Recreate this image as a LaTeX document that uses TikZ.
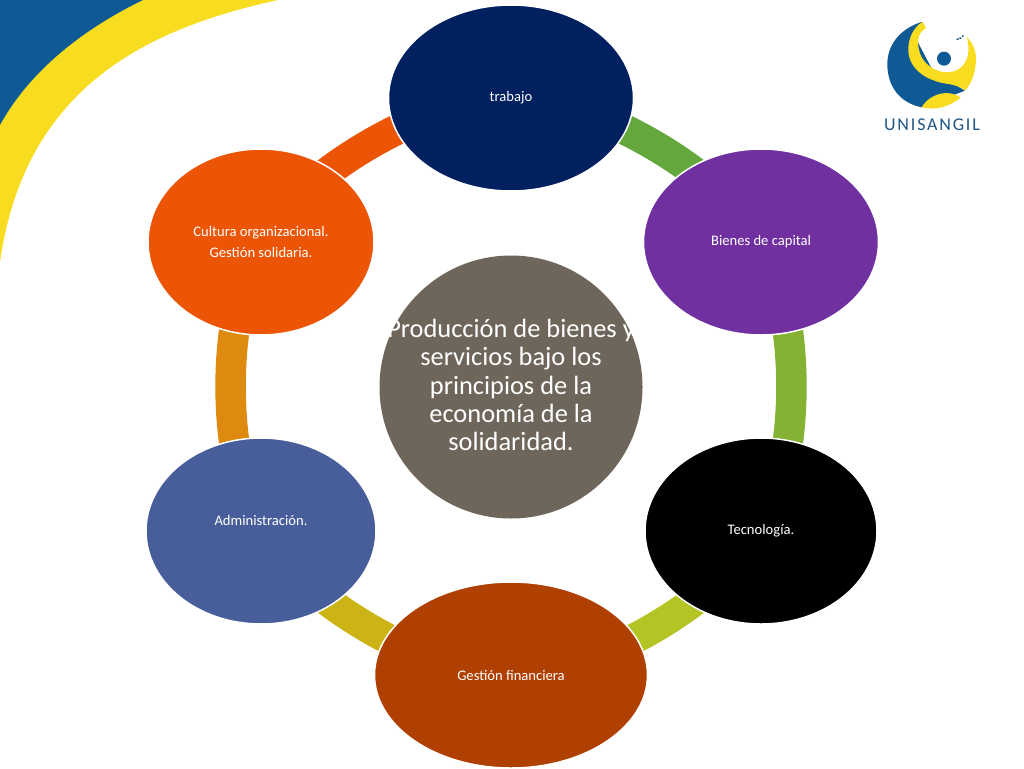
\documentclass[tikz,border=0pt]{standalone}
\usepackage{fontspec}
\setmainfont{Carlito}
\newfontfamily\logofont[LetterSpace=10]{Carlito}
\usetikzlibrary{shapes.geometric,backgrounds}
\definecolor{cTop}{HTML}{002060}
\definecolor{cCap}{HTML}{7030A0}
\definecolor{cFin}{HTML}{B04002}
\definecolor{cAdm}{HTML}{485E9B}
\definecolor{cCul}{HTML}{EC5505}
\definecolor{cMid}{HTML}{6E665A}
\definecolor{sA}{HTML}{64A83D}
\definecolor{sB}{HTML}{86B234}
\definecolor{sC}{HTML}{B4C424}
\definecolor{sD}{HTML}{CDB416}
\definecolor{sE}{HTML}{DE8A0F}
\definecolor{sF}{HTML}{EC5505}
\definecolor{uBlue}{HTML}{0F5A94}
\definecolor{uYel}{HTML}{F7DC20}
\definecolor{uText}{HTML}{1F5582}
\tikzset{
  x=1pt,y=-1pt,
  petal/.style={ellipse,draw=white,line width=1.5pt,inner sep=0pt,text=white,
    font=\fontsize{14.6}{21.5}\selectfont,align=center,minimum height=186pt},
  hub/.style={circle,fill=cMid,inner sep=0pt,minimum size=263pt},
  hubtext/.style={inner sep=0pt,text=white,yshift=2pt,font=\fontsize{26.4}{28.2}\selectfont,align=center},
  seg/.style={line width=30.5pt,looseness=0.72}
}
\newcommand{\lowtext}[1]{\raisebox{-1pt}{#1}}
\begin{document}
\begin{tikzpicture}
\useasboundingbox (0,0) rectangle (1024,768);
% swoosh
\fill[uYel] (0,0) -- (278,0) .. controls (150,28) and (25,85) .. (0,262) -- cycle;
\fill[uBlue] (0,0) -- (143,0) .. controls (85,28) and (30,70) .. (0,125) -- cycle;
% nodes
\node[petal,fill=cTop,minimum width=245pt] (trabajo) at (511,98) {\lowtext{trabajo}};
\node[petal,fill=cCap,minimum width=235pt] (capital) at (761,242) {\lowtext{Bienes de capital}};
\node[petal,fill=black,minimum width=232pt] (tecno) at (761,531) {\lowtext{Tecnología.}};
\node[petal,fill=cFin,minimum width=273pt] (finan) at (511,675) {Gestión financiera};
\node[petal,fill=cAdm,minimum width=230pt] (admin) at (261,531) {Administración.\\ \mbox{}};
\node[petal,fill=cCul,minimum width=226pt] (cultura) at (261,242) {Cultura organizacional.\\Gestión solidaria.};
\node[hub,label={[hubtext]center:Producción de bienes y\\servicios bajo los\\principios de la\\economía de la\\solidaridad.}] (hub) at (511,387) {};
% ring
\begin{pgfonlayer}{background}
\draw[seg,sA] (trabajo.center) to[bend left=30] (capital.center);
\draw[seg,sB] (capital.center) to[bend left=30] (tecno.center);
\draw[seg,sC] (tecno.center) to[bend left=30] (finan.center);
\draw[seg,sD] (finan.center) to[bend left=30] (admin.center);
\draw[seg,sE] (admin.center) to[bend left=30] (cultura.center);
\draw[seg,sF] (cultura.center) to[bend left=30] (trabajo.center);
\end{pgfonlayer}
% logo
\begin{scope}[shift={(870,0)},x=0.3333pt,y=-0.3333pt]
\fill[uBlue] (158,65) .. controls (90,85) and (52,135) .. (52,192) .. controls (52,265) and (95,310) .. (155,322) -- (285,272) -- (190,215) -- (140,120) -- cycle;
\fill[uYel] (158,65) .. controls (125,85) and (113,125) .. (115,155) .. controls (120,215) and (180,245) .. (235,252) .. controls (255,255) and (275,262) .. (285,272) .. controls (305,250) and (318,215) .. (318,175) .. controls (318,150) and (305,125) .. (290,110) .. controls (302,150) and (295,190) .. (265,208) .. controls (225,232) and (165,205) .. (150,160) .. controls (138,125) and (145,95) .. (168,85) -- cycle;
\fill[uYel] (155,322) .. controls (170,295) and (205,275) .. (240,280) .. controls (255,282) and (265,288) .. (272,293) .. controls (235,322) and (195,332) .. (155,322) -- cycle;
\fill[uBlue] (222,176) circle (21);
\fill[uText] (260,115) rectangle (266,120) (268,112) rectangle (274,117) (276,106) rectangle (281,111);
\end{scope}
\node[inner sep=0pt,text=uText,font=\logofont\fontsize{18}{18}\selectfont] (logo) at (932,125) {UNISANGIL};
\end{tikzpicture}
\end{document}
